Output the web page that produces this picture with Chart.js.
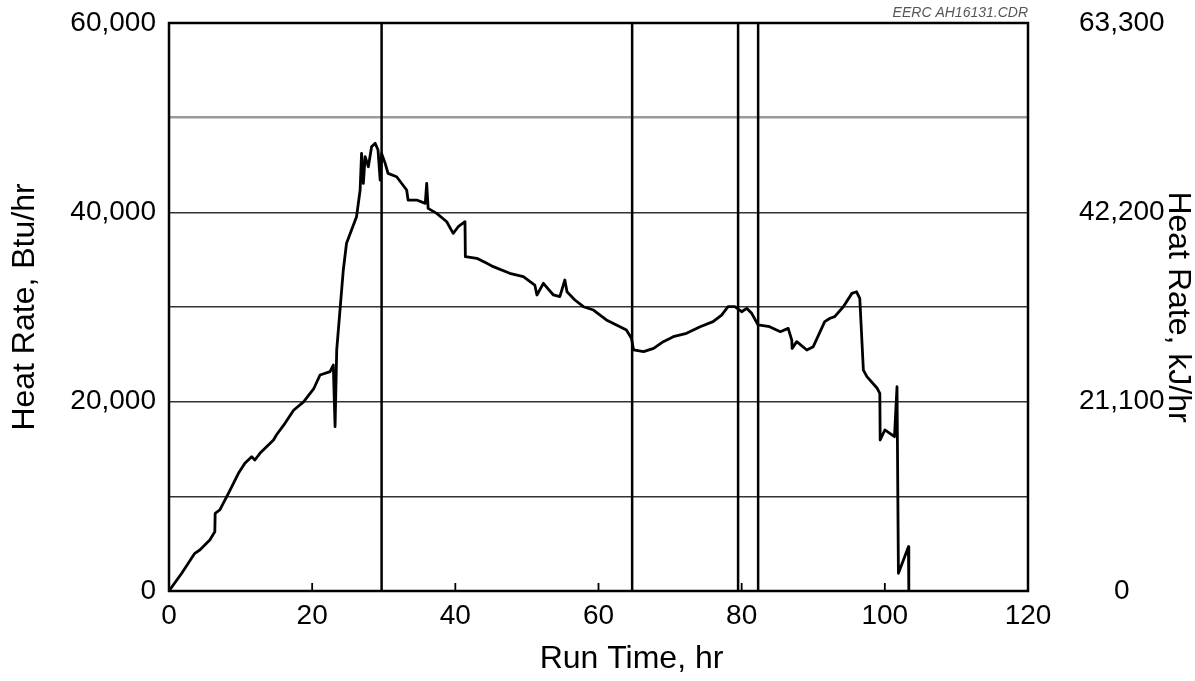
<!DOCTYPE html>
<html>
<head>
<meta charset="utf-8">
<script src="https://cdn.jsdelivr.net/npm/chart.js@4/dist/chart.umd.min.js"></script>
<style>
  html, body { margin: 0; padding: 0; background: #fff; }
  #wrap { width: 1195px; height: 681px; }
</style>
</head>
<body>
<div id="wrap"><canvas id="myChart" width="1195" height="681"></canvas></div>
<script>
// run time (hr) and heat rate (Btu/hr)
var runTime = [0, 0.1, 1.8, 3.6, 4.3, 5.7, 6.4, 6.45, 7.1, 8.3, 9.7, 10.6, 11.55, 12.0, 12.7, 14.6, 15.0, 16.2,
  17.4, 18.8, 20.2, 21.1, 22.5, 22.95, 23.2, 23.43, 24.35, 24.8, 25.5, 26.2, 26.7, 26.9, 27.15, 27.4, 27.85,
  28.3, 28.8, 29.2, 29.5, 29.7, 30.2, 30.6, 31.8, 33.2, 33.4, 34.6, 35.8, 36.0, 36.2, 37.4, 38.8, 39.7, 40.4,
  41.35, 41.4, 43.0, 44.4, 45.3, 47.6, 49.5, 51.1, 51.4, 52.3, 53.7, 54.6, 55.3, 55.6, 56.7, 57.9, 59.3, 61.1,
  63.0, 63.9, 64.6, 64.9, 66.3, 67.7, 69.05, 70.45, 72.3, 74.2, 76.0, 77.2, 78.1, 79.05, 80.0, 80.7, 81.4,
  82.3, 83.9, 85.4, 86.5, 87.0, 87.05, 87.7, 89.1, 90.0, 91.6, 92.35, 93.0, 94.2, 95.4, 96.05, 96.5, 97.0,
  97.5, 98.9, 99.3, 99.35, 100.0, 101.35, 101.7, 101.9, 102.6, 103.3, 103.35];
var heatRate = [0, 110, 1900, 3980, 4330, 5390, 6260, 8210, 8560, 10320, 12430, 13490, 14190, 13840, 14540, 15950, 16480, 17710,
  19090, 19980, 21340, 22820, 23170, 23870, 17360, 25460, 33910, 36730, 38130, 39540, 42360, 46230, 43060, 45880, 44820,
  46930, 47290, 46580, 43410, 46230, 45170, 44110, 43760, 42360, 41300, 41300, 40950, 43060, 40420, 39890, 39010, 37780, 38480,
  39010, 35310, 35140, 34610, 34260, 33560, 33210, 32320, 31270, 32500, 31270, 31090, 32850, 31610, 30740, 30030, 29680, 28630,
  27920, 27570, 26690, 25460, 25280, 25630, 26340, 26860, 27220, 27920, 28450, 29150, 30030, 30030, 29500, 29860, 29330,
  28100, 27920, 27390, 27740, 26510, 25630, 26340, 25460, 25810, 28450, 28810, 28980, 30030, 31440, 31610, 30920, 23340,
  22640, 21440, 20880, 15950, 17010, 16300, 21580, 1870, 3270, 4680, 0];

// vertical event lines (hr)
var markerTimes = [29.7, 64.7, 79.5, 82.3];

var xTicks = [0, 20, 40, 60, 80, 100, 120];
var kjTicks = [0, 21100, 42200, 63300];

var fontFam = '"Liberation Sans", Arial, Helvetica, sans-serif';

var tracePoints = runTime.map(function (t, i) { return { x: t, y: heatRate[i] }; });

var datasets = [{
  label: 'Heat Rate',
  data: tracePoints,
  showLine: true,
  borderColor: '#000',
  borderWidth: 2.8,
  borderJoinStyle: 'round',
  pointRadius: 0,
  tension: 0
}];
markerTimes.forEach(function (t) {
  datasets.push({
    label: 'marker',
    data: [{ x: t, y: 0 }, { x: t, y: 60000 }],
    showLine: true,
    borderColor: '#000',
    borderWidth: 2.5,
    pointRadius: 0
  });
});

function noPad(s) { s.paddingTop = 0; s.paddingBottom = 0; s.paddingLeft = 0; s.paddingRight = 0; }

// frame, inward ticks, x title (sits a bit right of centre in the original) and file tag
var framePlugin = {
  id: 'frame',
  afterDraw: function (chart) {
    var ctx = chart.ctx;
    var a = chart.chartArea;
    var xs = chart.scales.x;
    ctx.save();
    ctx.strokeStyle = '#000';
    ctx.lineWidth = 1.8;
    xTicks.forEach(function (t) {
      if (t === 0 || t === 120) return;
      var px = xs.getPixelForValue(t);
      ctx.beginPath();
      ctx.moveTo(px, a.bottom);
      ctx.lineTo(px, a.bottom - 8);
      ctx.stroke();
    });
    ctx.lineWidth = 2.5;
    ctx.strokeRect(a.left, a.top, a.right - a.left, a.bottom - a.top);

    ctx.fillStyle = '#000';
    ctx.font = '32px ' + fontFam;
    ctx.textAlign = 'center';
    ctx.textBaseline = 'middle';
    ctx.fillText('Run Time, hr', (a.left + a.right) / 2 + 33, xs.bottom - 22);

    ctx.font = 'italic 14px ' + fontFam;
    ctx.fillStyle = '#555';
    ctx.textAlign = 'right';
    ctx.textBaseline = 'bottom';
    ctx.fillText('EERC AH16131.CDR', a.right, a.top - 3);
    ctx.restore();
  }
};

var config = {
  type: 'scatter',
  data: { datasets: datasets },
  plugins: [framePlugin],
  options: {
    responsive: false,
    animation: false,
    layout: { padding: { left: 0, right: 0, top: 23, bottom: 0 } },
    plugins: { legend: { display: false }, tooltip: { enabled: false } },
    scales: {
      x: {
        type: 'linear',
        min: 0, max: 120,
        afterBuildTicks: function (s) { s.ticks = xTicks.map(function (v) { return { value: v }; }); },
        afterFit: function (s) { s.height = 90; noPad(s); },
        grid: { display: false, drawTicks: false },
        border: { display: false },
        ticks: { color: '#000', padding: 8, font: { family: fontFam, size: 28 } },
        title: { display: false }
      },
      y: {
        position: 'left',
        min: 0, max: 60000,
        afterFit: function (s) { s.width = 169; noPad(s); },
        ticks: {
          stepSize: 10000, color: '#000', padding: 13,
          font: { family: fontFam, size: 28 },
          callback: function (v) { return v % 20000 === 0 ? v.toLocaleString('en-US') : ''; }
        },
        grid: {
          drawTicks: false,
          color: function (c) { return c.tick && c.tick.value === 50000 ? '#9a9a9a' : '#333'; },
          lineWidth: function (c) { return c.tick && c.tick.value === 50000 ? 2.5 : 1.4; }
        },
        border: { display: false },
        title: { display: true, text: 'Heat Rate, Btu/hr', color: '#000', padding: { top: 9, bottom: 0 },
          font: { family: fontFam, size: 32, lineHeight: 1 } }
      },
      y2: {
        position: 'right',
        min: 0, max: 63300,
        afterBuildTicks: function (s) { s.ticks = kjTicks.map(function (v) { return { value: v }; }); },
        afterFit: function (s) { s.width = 167; noPad(s); },
        ticks: {
          color: '#000', padding: 51, crossAlign: 'center',
          font: { family: fontFam, size: 28 },
          callback: function (v) { return v.toLocaleString('en-US'); }
        },
        grid: { display: false, drawTicks: false },
        border: { display: false },
        title: { display: true, text: 'Heat Rate, kJ/hr', color: '#000', padding: { top: 1, bottom: 0 },
          font: { family: fontFam, size: 32, lineHeight: 1 } }
      }
    }
  }
};

var myChart = new Chart(document.getElementById('myChart'), config);
</script>
</body>
</html>
